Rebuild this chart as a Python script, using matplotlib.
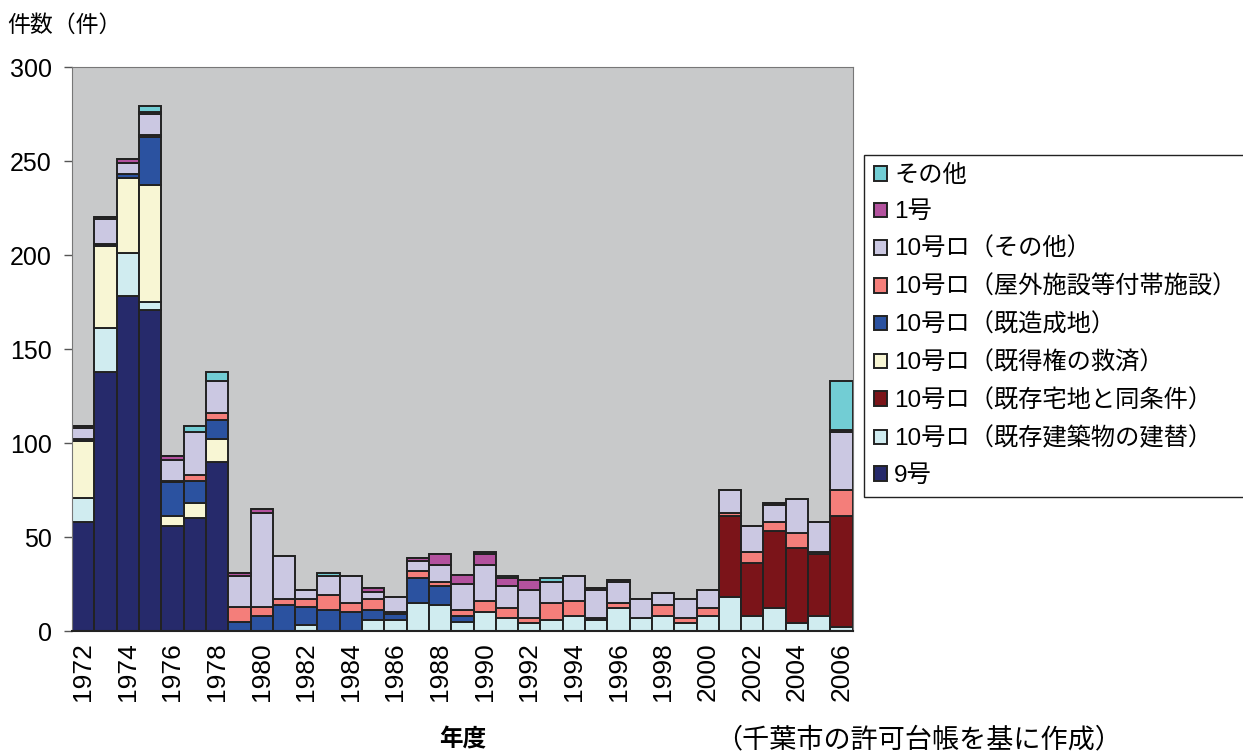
import numpy as np
import matplotlib.pyplot as plt

plt.rcParams['font.family'] = ['Liberation Sans', 'Noto Sans CJK JP', 'DejaVu Sans']

# 年度 1972-2006
years = list(range(1972, 2007))

# 件数 (読み取り値)
go9 = [58, 138, 178, 171, 56, 60, 90] + [0] * 28
tatekae = [13, 23, 23, 4, 0, 0, 0, 0, 0, 0, 3, 0, 0, 6, 6, 15, 14, 5, 10, 7, 4, 6, 8, 6, 12, 7, 8, 4, 8,
           18, 8, 12, 4, 8, 2]
takuchi = [0] * 29 + [43, 28, 41, 40, 33, 59]
kyusai = [30, 44, 40, 62, 5, 8, 12] + [0] * 28
zosei = [1, 1, 2, 26, 18, 12, 10, 5, 8, 14, 10, 11, 10, 5, 3, 13, 10, 3, 0, 0, 0, 0, 0, 1, 0, 0, 0, 0, 0,
         0, 0, 0, 0, 0, 0]
yagai = [0, 0, 0, 1, 1, 3, 4, 8, 5, 3, 4, 8, 5, 6, 1, 4, 2, 3, 6, 5, 3, 9, 8, 0, 3, 0, 6, 3, 4,
         2, 6, 5, 8, 1, 14]
sonota10 = [6, 13, 6, 11, 11, 23, 17, 16, 50, 23, 5, 10, 14, 4, 8, 5, 9, 14, 19, 12, 15, 11, 13, 15, 11, 10, 6, 10, 10,
            12, 14, 9, 18, 16, 31]
go1 = [1, 1, 2, 1, 2, 0, 0, 2, 2, 0, 0, 0, 0, 2, 0, 2, 6, 5, 6, 4, 5, 0, 0, 1, 1, 0, 0, 0, 0,
       0, 0, 1, 0, 0, 1]
sonota = [0, 0, 0, 3, 0, 3, 5, 0, 0, 0, 0, 2, 0, 0, 0, 0, 0, 0, 1, 1, 0, 2, 0, 0, 0, 0, 0, 0, 0,
          0, 0, 0, 0, 0, 26]

series = [
    ('9号', go9, '#262A6B'),
    ('10号ロ（既存建築物の建替）', tatekae, '#D0ECF0'),
    ('10号ロ（既存宅地と同条件）', takuchi, '#7B1419'),
    ('10号ロ（既得権の救済）', kyusai, '#F8F6D4'),
    ('10号ロ（既造成地）', zosei, '#2B52A0'),
    ('10号ロ（屋外施設等付帯施設）', yagai, '#F47E7A'),
    ('10号ロ（その他）', sonota10, '#CBC8E2'),
    ('1号', go1, '#B3529E'),
    ('その他', sonota, '#72CDD4'),
]

fig = plt.figure(figsize=(12.43, 7.53), dpi=100)
ax = fig.add_axes([0.058, 0.162, 0.628, 0.749])
ax.set_facecolor('#C8C9CA')

x = np.arange(len(years))
bottom = np.zeros(len(years))
for name, vals, col in series:
    ax.bar(x, vals, width=1.0, bottom=bottom, color=col, edgecolor='#222222', linewidth=1.4, label=name)
    bottom += np.array(vals)

ax.set_xlim(-0.5, len(years) - 0.5)
ax.set_ylim(0, 300)
ax.set_yticks(range(0, 301, 50))
ax.set_xticks(x[::2])
ax.set_xticklabels([str(y) for y in years[::2]], rotation=90, fontsize=19)
ax.tick_params(axis='x', length=0, pad=8)
ax.tick_params(axis='y', labelsize=18, length=6, width=1, color='#555555', pad=8.5)
for s in ['top', 'right', 'left']:
    ax.spines[s].set_color('#777777')
ax.spines['bottom'].set_color('#222222')
ax.spines['bottom'].set_linewidth(1.5)

h, l = ax.get_legend_handles_labels()
leg = fig.legend(h[::-1], l[::-1], loc='upper left', bbox_to_anchor=(0.695, 0.794), borderaxespad=0,
                 fontsize=17.5, frameon=True, fancybox=False, edgecolor='#222222', framealpha=1,
                 handlelength=0.55, handleheight=0.55, handletextpad=0.3, labelspacing=0.6,
                 borderpad=0.4)
leg.get_frame().set_linewidth(1.0)

fig.text(0.006, 0.967, '件数（件）', fontsize=16.5, va='center', ha='left')
fig.text(0.372, 0.017, '年度', fontsize=17, fontweight='bold', va='center', ha='center')
fig.text(0.575, 0.017, '（千葉市の許可台帳を基に作成）', fontsize=19.5, va='center', ha='left')

fig.savefig('out.png', dpi=100)
